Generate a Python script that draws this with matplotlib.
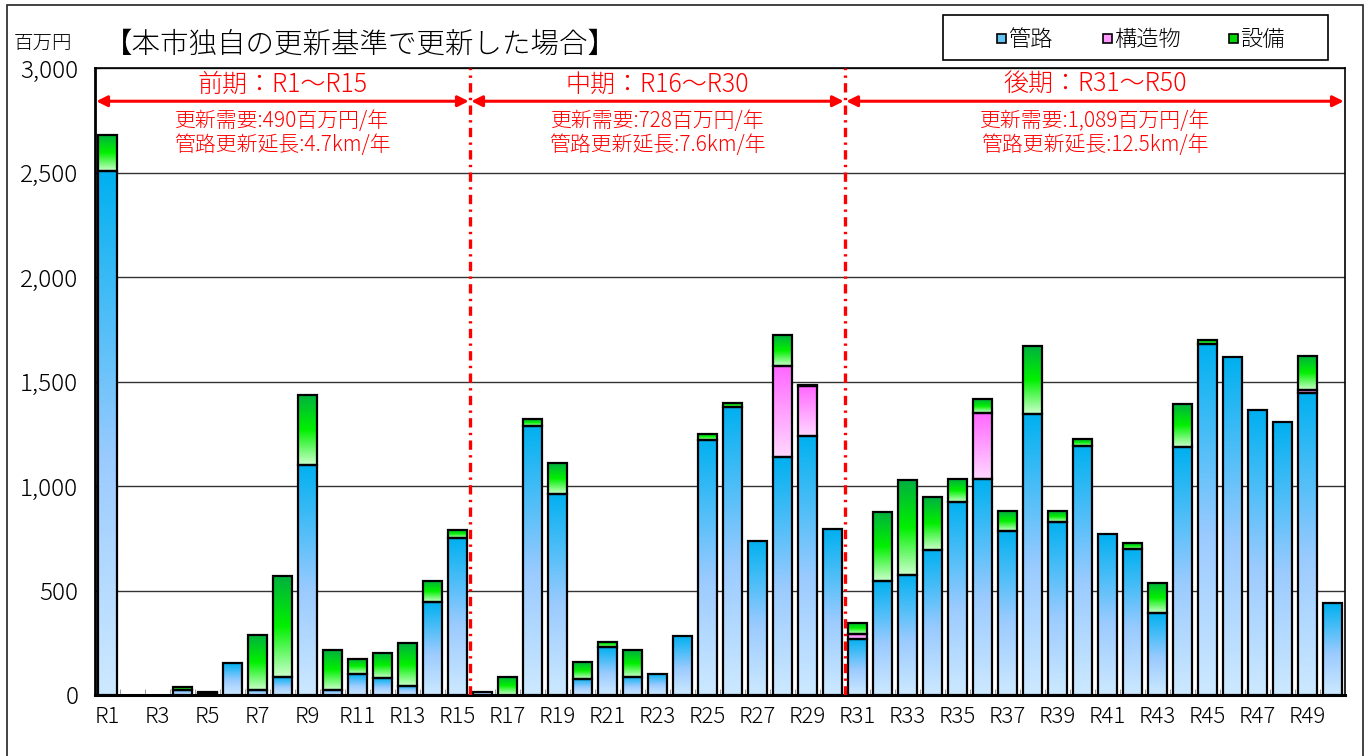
import numpy as np
import matplotlib
matplotlib.use('Agg')
import matplotlib.pyplot as plt
from matplotlib.colors import LinearSegmentedColormap
from matplotlib.patches import Rectangle

plt.rcParams['font.family'] = ['Noto Sans CJK JP', 'DejaVu Sans']
plt.rcParams['font.weight'] = 'light'

# --- data (百万円) ---
years = ['R%d' % i for i in range(1, 51)]
pipe = [2505, 0, 0, 24, 10, 152, 24, 85, 1102, 24,
        100, 80, 45, 444, 750, 16, 0, 1289, 963, 77,
        228, 88, 102, 281, 1221, 1378, 739, 1137, 1241, 794,
        269, 545, 576, 694, 924, 1033, 785, 1345, 828, 1193,
        769, 698, 392, 1185, 1680, 1615, 1362, 1306, 1444, 439]
struct = [0, 0, 0, 0, 0, 0, 0, 0, 0, 0,
          0, 0, 0, 0, 0, 0, 0, 0, 0, 0,
          0, 0, 0, 0, 0, 0, 0, 437, 236, 0,
          21, 0, 0, 0, 0, 318, 0, 0, 0, 0,
          0, 0, 0, 0, 0, 0, 0, 0, 13, 0]
equip = [173, 0, 0, 14, 3, 0, 265, 485, 335, 192,
         72, 123, 202, 102, 40, 0, 88, 31, 147, 80,
         24, 126, 0, 0, 29, 19, 0, 147, 8, 0,
         53, 331, 454, 251, 109, 66, 95, 327, 52, 32,
         0, 28, 144, 208, 19, 0, 0, 0, 167, 0]

periods = ['前期：R1～R15', '中期：R16～R30', '後期：R31～R50']
period_bounds = [(0, 15), (15, 30), (30, 50)]
demand = ['更新需要:490百万円/年', '更新需要:728百万円/年', '更新需要:1,089百万円/年']
length = ['管路更新延長:4.7km/年', '管路更新延長:7.6km/年', '管路更新延長:12.5km/年']
series_names = ['管路', '構造物', '設備']

W, H = 1370, 756
fig = plt.figure(figsize=(W / 100, H / 100), dpi=100)
ax = fig.add_axes([95 / W, 1 - 695 / H, 1250 / W, 627 / H])

cm_pipe = LinearSegmentedColormap.from_list('pipe', [(0, '#cde9ff'), (0.45, '#9bcbff'), (1, '#00b0f0')])
cm_struct = LinearSegmentedColormap.from_list('struct', [(0, '#ffd8ff'), (1, '#ff66ff')])
cm_equip = LinearSegmentedColormap.from_list('equip', [(0, '#ccffcc'), (0.5, '#00f000'), (1, '#00b040')])
grad = np.linspace(0, 1, 256).reshape(-1, 1)

x = np.arange(50) + 0.5
pipe = np.array(pipe)
struct = np.array(struct)
equip = np.array(equip)
bottoms = [np.zeros(50), pipe, pipe + struct]

for vals, bot, cm in zip([pipe, struct, equip], bottoms, [cm_pipe, cm_struct, cm_equip]):
    bars = ax.bar(x, vals, bottom=bot, width=0.78, facecolor='none',
                  edgecolor='black', lw=1.6, zorder=4)
    for b, v in zip(bars, vals):
        if v <= 0:
            b.set_visible(False)
            continue
        x0, y0 = b.get_x(), b.get_y()
        ax.imshow(grad, extent=[x0, x0 + b.get_width(), y0, y0 + b.get_height()],
                  origin='lower', cmap=cm, aspect='auto', zorder=3, interpolation='bilinear')

ax.set_xlim(0, 50)
ax.set_ylim(0, 3000)
ax.set_yticks(np.arange(0, 3001, 500))
ax.set_yticklabels(['{:,}'.format(v) for v in range(0, 3001, 500)], fontsize=17.5)
ax.yaxis.grid(True, color='#333333', lw=1)
ax.set_axisbelow(True)
ax.tick_params(axis='y', direction='in', length=4, pad=12)
ax.set_xticks(x[::2])
ax.set_xticklabels(years[::2], fontsize=16)
ax.set_xticks(np.arange(1, 50), minor=True)
ax.tick_params(axis='x', which='major', length=0, pad=8)
ax.tick_params(axis='x', which='minor', direction='in', length=4, color='#888888')
for s in ax.spines.values():
    s.set_linewidth(1.2)
ax.spines['left'].set_linewidth(2)
ax.spines['bottom'].set_linewidth(2.2)

# period dividers and annotations
for b in (15, 30):
    ax.axvline(b, color='red', lw=2.4, ls=(0, (2.8, 1.6, 0.7, 1.6)), zorder=5)
for name, (a, b), d, l in zip(periods, period_bounds, demand, length):
    ax.annotate('', xy=(a + 0.05, 0.947), xytext=(b - 0.05, 0.947),
                xycoords=('data', 'axes fraction'),
                arrowprops=dict(arrowstyle='<|-|>', color='red', lw=2.2,
                                mutation_scale=16, shrinkA=0, shrinkB=0))
    mid = (a + b) / 2
    ax.text(mid, 0.974, name, transform=ax.get_xaxis_transform(), color='red',
            fontsize=18, ha='center', va='center')
    ax.text(mid, 0.915, d, transform=ax.get_xaxis_transform(), color='red',
            fontsize=15, ha='center', va='center')
    ax.text(mid, 0.877, l, transform=ax.get_xaxis_transform(), color='red',
            fontsize=15, ha='center', va='center')

fig.text(14 / W, 1 - 43 / H, '百万円', fontsize=14, va='center', ha='left')
fig.text(104 / W, 1 - 44 / H, '【本市独自の更新基準で更新した場合】', fontsize=20.5,
         va='center', ha='left')

# legend box drawn by hand
fig.patches.append(Rectangle((943 / W, 1 - 60 / H), 385 / W, 45 / H, transform=fig.transFigure,
                             facecolor='white', edgecolor='black', lw=1.2))
leg_x = [997, 1103, 1229]
leg_colors = ['#66c4f5', '#ff99ff', '#00d800']
for lx, c, name in zip(leg_x, leg_colors, series_names):
    fig.patches.append(Rectangle((lx / W, 1 - 43 / H), 9 / W, 9 / H, transform=fig.transFigure,
                                 facecolor=c, edgecolor='black', lw=1.2))
    fig.text((lx + 11) / W, 1 - 40 / H, name, fontsize=16, va='center', ha='left')

# outer frame
fig.patches.append(Rectangle((7 / W, -0.01), 1356 / W, 1 - 5 / H + 0.01, transform=fig.transFigure,
                             facecolor='none', edgecolor='#222222', lw=1.2))

plt.savefig('out.png', dpi=100)
